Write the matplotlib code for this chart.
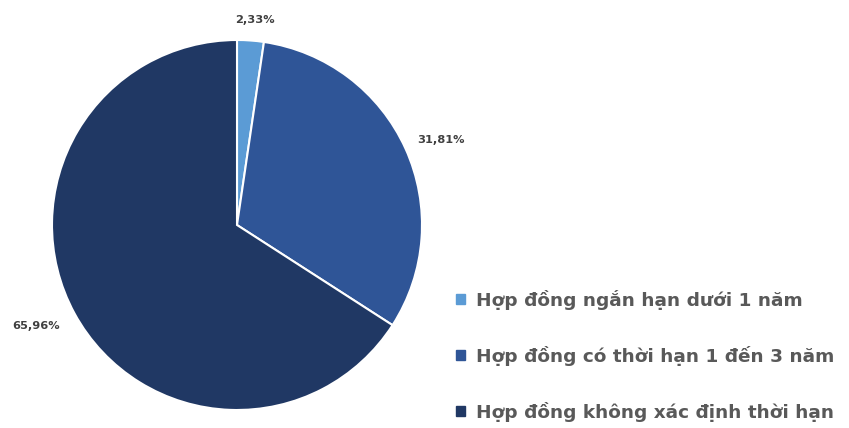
import matplotlib
matplotlib.use("Agg")
import matplotlib.pyplot as plt
import matplotlib.patches as mpatches
import numpy as np

labels = ["Hợp đồng ngắn hạn dưới 1 năm",
          "Hợp đồng có thời hạn 1 đến 3 năm",
          "Hợp đồng không xác định thời hạn"]
shares = [2.33, 31.81, 65.96]
colors = ["#5B9BD5", "#2F5597", "#203864"]
# (radius, angle nudge in degrees) for each percent label
label_pos = [(1.112, -0.8), (1.195, -1.75), (1.214, -1.95)]

fig = plt.figure(figsize=(8.49, 4.28), dpi=100)
ax = fig.add_axes([52 / 849, 18 / 428, 370 / 849, 370 / 428])

wedges, _ = ax.pie(shares, colors=colors, startangle=90, counterclock=False,
                   radius=1, wedgeprops=dict(edgecolor="white", linewidth=1.5))
ax.set_xlim(-1, 1)
ax.set_ylim(-1, 1)
ax.set_aspect("equal")

# percent labels outside each slice, comma as decimal separator
for w, v, (d, nudge) in zip(wedges, shares, label_pos):
    ang = np.deg2rad((w.theta1 + w.theta2) / 2 + nudge)
    ax.text(d * np.cos(ang), d * np.sin(ang), f"{v:.2f}%".replace(".", ","),
            ha="center", va="center", fontsize=8.2, fontweight="bold",
            color="#404040", clip_on=False)

handles = [mpatches.Patch(color=c, label=l) for c, l in zip(colors, labels)]
fig.legend(handles=handles, loc="upper left", bbox_to_anchor=(439 / 849, 1 - 273 / 428),
           frameon=False, handlelength=0.5, handleheight=0.5,
           handletextpad=0.6, labelspacing=1.95, labelcolor="#595959",
           prop=dict(weight="bold", size=13.3))

fig.savefig("out.png", dpi=100)
